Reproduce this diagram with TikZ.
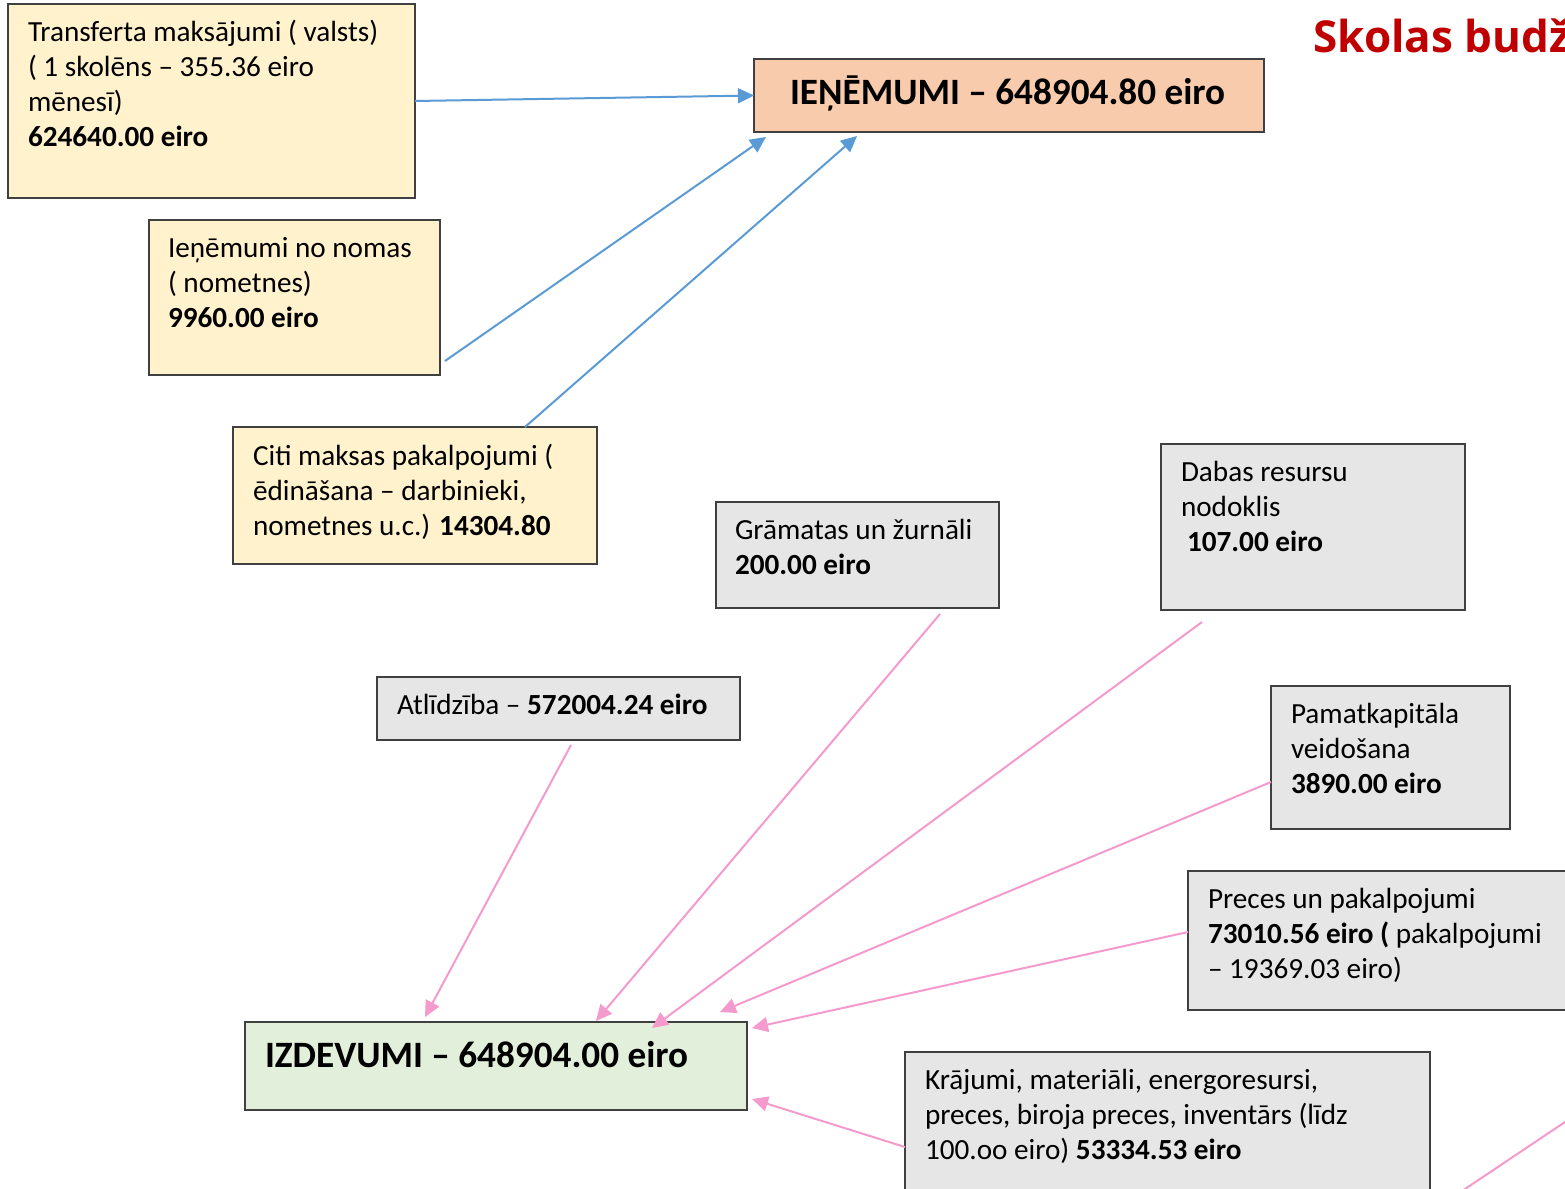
\documentclass[tikz,border=0pt]{standalone}
\usepackage{fontspec}
\setmainfont{Carlito}
\newfontfamily\titlefont{Open Sans}
\usetikzlibrary{arrows.meta,calc}
\definecolor{yelF}{HTML}{FFF2CC}
\definecolor{oraF}{HTML}{F8CBAD}
\definecolor{greF}{HTML}{E7E6E6}
\definecolor{grnF}{HTML}{E2EFDA}
\definecolor{blueA}{HTML}{5B9BD5}
\definecolor{pinkA}{RGB}{244,154,204}
\definecolor{edgeC}{HTML}{404040}
\definecolor{titleC}{HTML}{C00000}
\def\u{0.5pt}
\tikzset{
  box/.style={draw=edgeC, line width=0.75pt, rectangle, inner sep=0pt, outer sep=0pt, anchor=north west},
  txt/.style={anchor=base west, inner sep=0pt, outer sep=0pt, align=left, font=\fontsize{14.6}{17.6}\selectfont},
  big/.style={anchor=base west, inner sep=0pt, outer sep=0pt, font=\fontsize{18.6}{22}\selectfont\bfseries},
  barrow/.style={draw=blueA, line width=1pt, -{Triangle[length=8pt,width=7.5pt]}},
  parrow/.style={draw=pinkA, line width=1pt, -{Triangle[length=8pt,width=7.5pt]}},
}
\begin{document}
\begin{tikzpicture}[x=0.5pt,y=-0.5pt]
\useasboundingbox (0,0) rectangle (1565,1189);
\clip (0,0) rectangle (1565,1189);
\fill[white] (0,0) rectangle (1565,1189);
% boxes
\node[box, fill=yelF, minimum width=407*\u, minimum height=194*\u] (tr) at (8,4) {};
\node[box, fill=yelF, minimum width=291*\u, minimum height=155*\u] (nom) at (149,220) {};
\node[box, fill=yelF, minimum width=364*\u, minimum height=137*\u] (citi) at (233,427) {};
\node[box, fill=oraF, minimum width=510*\u, minimum height=73*\u] (inc) at (754,59) {};
\node[box, fill=greF, minimum width=283*\u, minimum height=106*\u] (gram) at (716,502) {};
\node[box, fill=greF, minimum width=304*\u, minimum height=166*\u] (dab) at (1161,444) {};
\node[box, fill=greF, minimum width=363*\u, minimum height=63*\u] (atl) at (377,677) {};
\node[box, fill=greF, minimum width=239*\u, minimum height=143*\u] (pam) at (1271,686) {};
\node[box, fill=greF, minimum width=392*\u, minimum height=139*\u] (prec) at (1188,871) {};
\node[box, fill=grnF, minimum width=502*\u, minimum height=88*\u] (izd) at (245,1022) {};
\node[box, fill=greF, minimum width=525*\u, minimum height=148*\u] (kraj) at (905,1052) {};
% texts (anchor base = baseline of the last line)
\node[txt] (trT) at ($(tr.north west)+(20,142.6)$) {Transferta maksājumi ( valsts)\\( 1 skolēns – 355.36 eiro\\mēnesī)\\\textbf{624640.00 eiro}};
\node[txt] (nomT) at ($(nom.north west)+(19,107.4)$) {Ieņēmumi no nomas\\( nometnes)\\\textbf{9960.00 eiro}};
\node[txt] (citiT) at ($(citi.north west)+(20,108.4)$) {Citi maksas pakalpojumi (\\ēdināšana – darbinieki,\\nometnes u.c.) \textbf{14304.80}};
\node[big] (incT) at ($(inc.north west)+(36,45)$) {IEŅĒMUMI – 648904.80 eiro};
\node[txt] (gramT) at ($(gram.north west)+(19,72.2)$) {Grāmatas un žurnāli\\\textbf{200.00 eiro}};
\node[txt] (dabT) at ($(dab.north west)+(20,107.4)$) {Dabas resursu\\nodoklis\\\hspace*{3pt}\textbf{107.00 eiro}};
\node[txt] (atlT) at ($(atl.north west)+(20,37.5)$) {Atlīdzība – \textbf{572004.24 eiro}};
\node[txt] (pamT) at ($(pam.north west)+(20,107.4)$) {Pamatkapitāla\\veidošana\\\textbf{3890.00 eiro}};
\node[txt] (precT) at ($(prec.north west)+(20,107.4)$) {Preces un pakalpojumi\\\textbf{73010.56 eiro (} pakalpojumi\\– 19369.03 eiro)};
\node[big] (izdT) at ($(izd.north west)+(20,45)$) {IZDEVUMI – 648904.00 eiro};
\node[txt] (krajT) at ($(kraj.north west)+(20,107.4)$) {Krājumi, materiāli, energoresursi,\\preces, biroja preces, inventārs (līdz\\100.oo eiro) \textbf{53334.53 eiro}};
\node[anchor=base west, inner sep=0pt, text=titleC, font=\titlefont\fontsize{22}{26}\selectfont\bfseries] (title) at (1313,52) {Skolas budž};
% blue arrows
\draw[barrow] (tr.east) -- (inc.west);
\draw[barrow] ($(nom.south east)+(5,-14)$) -- ($(inc.south west)+(12,5)$);
\draw[barrow] ($(citi.north west)+(292,0)$) -- ($(inc.south west)+(103,4)$);
% pink arrows
\draw[parrow] ($(atl.south west)+(194,5)$) -- ($(izd.north west)+(180,-5)$);
\draw[parrow] ($(gram.south west)+(224,6)$) -- ($(izd.north west)+(351,-1)$);
\draw[parrow] ($(dab.south west)+(41,12)$) -- ($(izd.north west)+(407,6)$);
\draw[parrow] ($(pam.south west)+(0,-47)$) -- ($(izd.north east)+(-27,-10)$);
\draw[parrow] ($(prec.north west)+(0,61)$) -- ($(izd.north east)+(5,6)$);
\draw[parrow] ($(kraj.north west)+(0,95)$) -- ($(izd.south east)+(5,-11)$);
\coordinate (offA) at (1580,1112);
\coordinate (offB) at (1450,1199);
\draw[draw=pinkA, line width=1pt] (offA) -- (offB);
\end{tikzpicture}
\end{document}
